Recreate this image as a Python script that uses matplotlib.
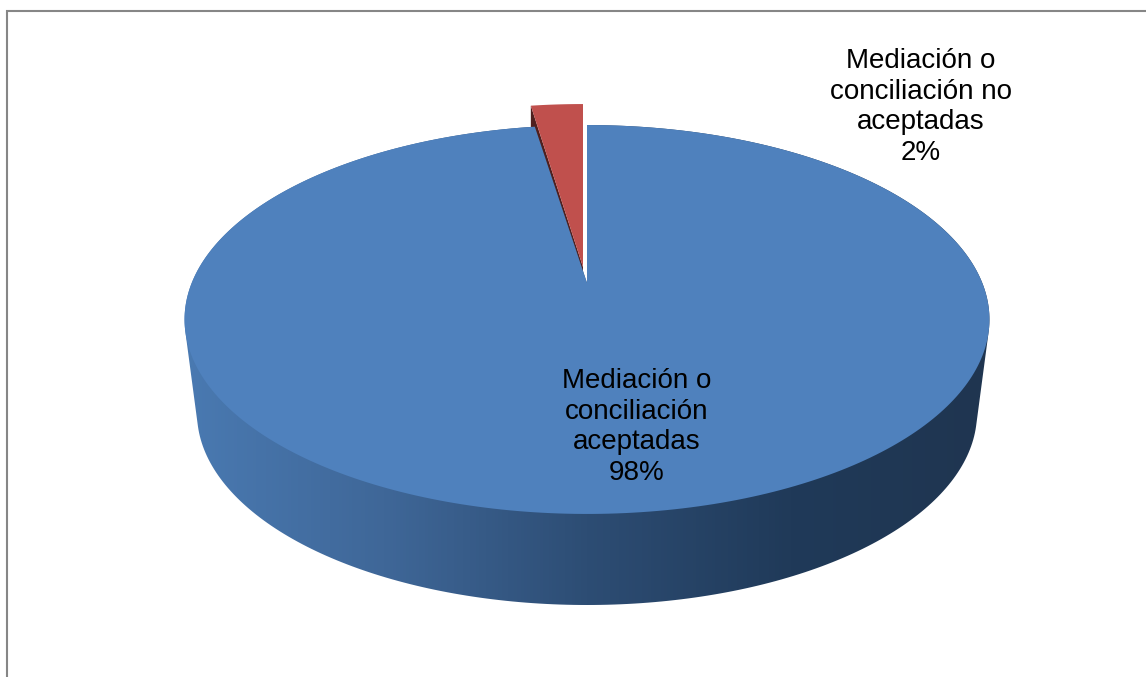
import numpy as np
import matplotlib
matplotlib.use('Agg')
import matplotlib.pyplot as plt
from matplotlib.patches import Polygon
from matplotlib.colors import LinearSegmentedColormap

plt.rcParams['font.family'] = ['Liberation Sans', 'DejaVu Sans']

labels = ['Mediación o\nconciliación\naceptadas\n98%',
          'Mediación o\nconciliación no\naceptadas\n2%']
shares = [97.5, 2.5]

W, H = 1146, 677
cx, cy = 587, 283       # pie centre on the picture
a, b, k = 395.3, 187.6, 0.1877   # perspective of the top disc
depth_rx, depth_ry, depth_cy = 390, 192, 413   # bottom ellipse


def project(theta):
    # theta in degrees, clockwise from 12 o'clock
    t = np.radians(theta)
    u, v = np.sin(t), np.cos(t)
    return np.column_stack([cx + a*u/(1+k*v), cy - b*v/(1+k*v)])


def hull(pts):
    # monotone chain
    pts = sorted(map(tuple, pts))
    def half(seq):
        out = []
        for p in seq:
            while len(out) > 1 and ((out[-1][0]-out[-2][0])*(p[1]-out[-2][1])
                                    - (out[-1][1]-out[-2][1])*(p[0]-out[-2][0])) <= 0:
                out.pop()
            out.append(p)
        return out[:-1]
    return np.array(half(pts) + half(pts[::-1]))


fig = plt.figure(figsize=(W/100, H/100), dpi=100)
ax = fig.add_axes([0, 0, 1, 1])
ax.set_xlim(0, W)
ax.set_ylim(H, 0)
ax.axis('off')

# chart frame
ax.plot([7, 7, W], [H, 11, 11], color='#868686', lw=1.5, solid_joinstyle='miter')

# side wall, gradient from left to right
blue_angle = 360*shares[0]/100
red_angle = 360*shares[1]/100
top = project(np.linspace(0, 360, 361))
t = np.radians(np.linspace(0, 360, 361))
bottom = np.column_stack([cx + depth_rx*np.sin(t), depth_cy + depth_ry*np.cos(t)])
wall = hull(np.vstack([top, bottom]))

side_cmap = LinearSegmentedColormap.from_list(
    'side', [(0, '#4a7ab2'), (0.25, '#3f6798'), (0.5, '#2d4d74'),
             (0.75, '#203a59'), (1, '#1f3550')])
im = ax.imshow(np.linspace(0, 1, 256).reshape(1, -1), cmap=side_cmap,
               extent=(180, 995, H, 0), aspect='auto', zorder=1)
im.set_clip_path(Polygon(wall, closed=True, transform=ax.transData))
ax.set_xlim(0, W)
ax.set_ylim(H, 0)

# white notch left behind by the red slice
notch = project(np.linspace(-red_angle, 0, 30))
notch_top = notch[::-1] + [0, -6]
ax.add_patch(Polygon(np.vstack([[cx, cy], notch[0], notch[0] + [0, -6],
                                notch[-1] + [0, -6], notch[-1]]),
                     closed=True, fc='white', ec='none', zorder=1.5))

# red slice, pulled out, with its dark side
red_arc = notch + [-4, -21]
red_apex = np.array([cx-4, cy-16])
side = np.array([red_arc[0], red_apex, red_apex + [0, 30], red_arc[0] + [0, 40]])
ax.add_patch(Polygon(side, closed=True, fc='#4f1f1e', ec='none', zorder=2))
ax.add_patch(Polygon(np.vstack([red_apex, red_arc]), closed=True,
                     fc='#c0504d', ec='none', zorder=4))

# blue slice
blue_arc = project(np.linspace(0, blue_angle, 361))
ax.add_patch(Polygon(np.vstack([[cx, cy], blue_arc]), closed=True,
                     fc='#4f81bd', ec='none', zorder=3))

ax.text(636.5, 427, labels[0], ha='center', va='center', fontsize=20,
        linespacing=1.24, color='black', zorder=5)
ax.text(921, 107, labels[1], ha='center', va='center', fontsize=20,
        linespacing=1.24, color='black', zorder=5)

fig.savefig('out.png', dpi=100)
